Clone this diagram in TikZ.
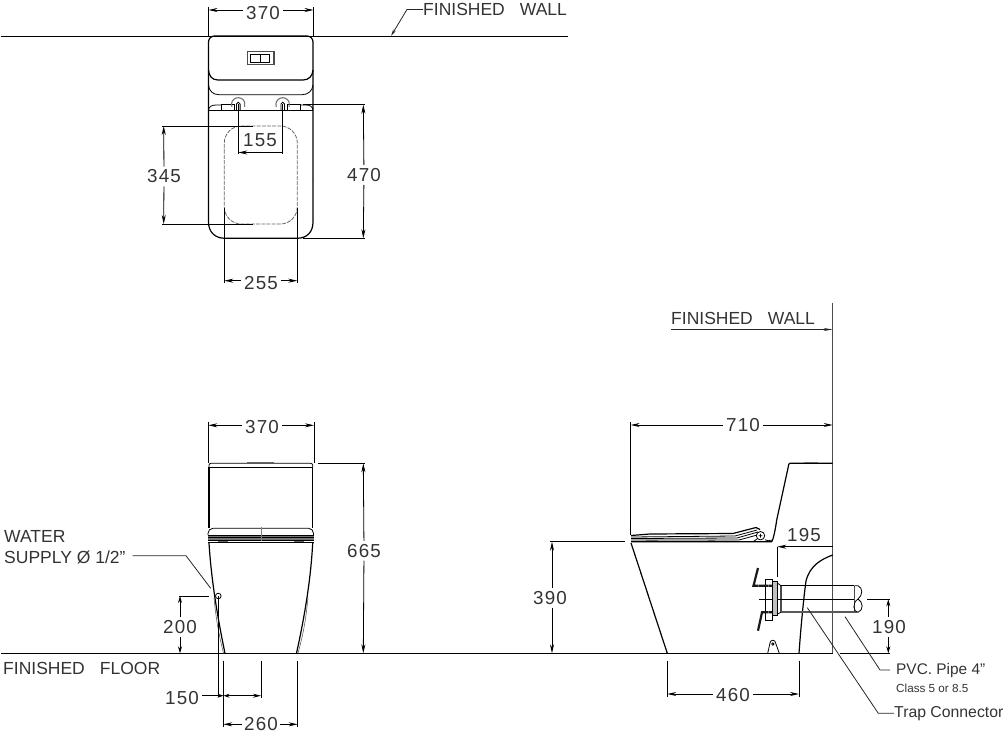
\documentclass[tikz,border=0pt]{standalone}
\usepackage{fontspec}
\setmainfont{Liberation Sans}
\usetikzlibrary{arrows.meta}
\newfontfamily\numfont[LetterSpace=6]{Liberation Sans}
\newcommand{\QM}{\symbol{34}}
\definecolor{inkgray}{gray}{0.2}
\tikzset{
  dimtext/.style={inner sep=3pt, text=inkgray, font=\fontsize{18.8}{20}\numfont},
  labeltext/.style={inner sep=0pt, anchor=west, text=inkgray, font=\fontsize{17.5}{18}\selectfont},
  outline/.style={line width=1.2pt, black},
  thinline/.style={line width=0.8pt, black},
  dimline/.style={line width=0.8pt, black, -{Stealth[length=9pt,width=4pt]}},
  leader/.style={line width=0.8pt, black!85},
  boltline/.style={line width=2.2pt, black!90, dash pattern=on 1.6pt off 0.3pt}
}
\begin{document}
\begin{tikzpicture}[x=1pt, y=-1pt]
  \useasboundingbox (0,0) rectangle (1007,733);

  %% walls and floor
  \draw[thinline] (1,36) -- (568,36);
  \draw[line width=1.2pt, black!70] (832.7,303) -- (832.7,653.3);
  \draw[thinline] (1,653.3) -- (832.7,653.3);
  \draw[thinline] (840,653.3) -- (890,653.3);

  %% top view
  \draw[outline, rounded corners=6] (208.5,180) -- (208.5,36) -- (313,36) -- (313,180);
  \draw[outline] (208.5,180) -- (208.5,222) .. controls (208.5,232) and (215,238.3) .. (225,238.3)
    -- (297,238.3) .. controls (307,238.3) and (313,232) .. (313,222) -- (313,180);
  \draw[outline] (208.5,70) .. controls (209,76) and (212,80) .. (218,80) -- (303,80) .. controls (309,80) and (312.5,76) .. (313,70);
  \draw[thinline] (208.5,85) .. controls (209,91) and (213,94.7) .. (219,94.7) -- (302,94.7) .. controls (308,94.7) and (312.5,91) .. (313,85);
  \draw[outline] (208.5,110.7) -- (313,110.7);
  \draw[thinline] (208.5,110) .. controls (209,106.5) and (212,105) .. (216,105) -- (222,105) (300,105) -- (306,105) .. controls (310,105) and (312.5,106.5) .. (313,110);
  \draw[thinline] (221.7,104.7) rectangle (234,110.7) (287,104.7) rectangle (300,110.7);
  \draw[line width=1.1pt, black!55] (231.9,106.8) arc[start angle=160, end angle=380, radius=6.8]
    (276.3,106.8) arc[start angle=160, end angle=380, radius=6.8];
  \draw[thinline] (236.5,110.7) -- (236.5,104) arc[start angle=180, end angle=360, radius=1.8] -- (240.1,110.7)
    (280.9,110.7) -- (280.9,104) arc[start angle=180, end angle=360, radius=1.8] -- (284.5,110.7);
  \draw[line width=1.3pt, black!70] (247.3,51.7) rectangle (274,64.7);
  \draw[thinline] (250.3,54.3) rectangle (269.3,62.7) (260,54.3) -- (260,62.7);
  \draw[line width=0.8pt, black!60, dashed, dash pattern=on 4pt off 1.2pt, rounded corners=17]
    (224.3,170) -- (224.3,126) -- (297.3,126) -- (297.3,224) -- (224.3,224) -- cycle;

  \node[dimtext] (lenTopW) at (263,13) {370};
  \coordinate (lenTopWa) at (208.5,10);
  \coordinate (lenTopWb) at (313.5,10);
  \draw[dimline] (lenTopW.west |- lenTopWa) -- (lenTopWa);
  \draw[dimline] (lenTopW.east |- lenTopWb) -- (lenTopWb);
  \draw[thinline] (208.5,7) -- (208.5,36) (313.5,7) -- (313.5,36);

  \node[labeltext] (wallTop) at (423,9.5) {FINISHED\hspace{15pt}WALL};
  \coordinate (wallTopEnd) at (391,36);
  \draw[leader, -{Stealth[length=7pt,width=3pt]}] (wallTop.west) -- (407,9.5) -- (wallTopEnd);

  \node[dimtext] (lenBolt) at (260,140) {155};
  \coordinate (lenBolta) at (238.3,152.5);
  \coordinate (lenBoltb) at (282.7,152.5);
  \draw[thinline] (238.3,104) -- (238.3,154) (282.7,104) -- (282.7,154);
  \draw[dimline, {Stealth[length=9pt,width=4pt]}-] (lenBolta) -- (lenBoltb);

  \node[dimtext] (lenSeat) at (164,176.5) {345};
  \coordinate (lenSeata) at (163.7,126);
  \coordinate (lenSeatb) at (163.7,224);
  \draw[thinline] (162,126) -- (253,126) (162,224) -- (253,224);
  \draw[dimline] (lenSeat) -- (lenSeata);
  \draw[dimline] (lenSeat) -- (lenSeatb);

  \node[dimtext] (lenBowl) at (364,175) {470};
  \coordinate (lenBowla) at (363.3,104.7);
  \coordinate (lenBowlb) at (363.3,238.3);
  \draw[thinline] (303,104.7) -- (365,104.7) (303,238.3) -- (365,238.3);
  \draw[dimline] (lenBowl) -- (lenBowla);
  \draw[dimline] (lenBowl) -- (lenBowlb);

  \node[dimtext] (lenOpen) at (261,283) {255};
  \coordinate (lenOpena) at (224.3,280.7);
  \coordinate (lenOpenb) at (297.3,280.7);
  \draw[thinline] (224.3,208) -- (224.3,283) (297.3,208) -- (297.3,283);
  \draw[dimline] (lenOpen.west |- lenOpena) -- (lenOpena);
  \draw[dimline] (lenOpen.east |- lenOpenb) -- (lenOpenb);

  %% front view
  \draw[outline] (209,528) -- (209,467.3) -- (312.7,467.3) -- (312.7,528);
  \draw[thinline, rounded corners=2] (209,467.3) -- (209,463.3) -- (312.7,463.3) -- (312.7,467.3);
  \draw[line width=1.5pt, black!60] (247,462.5) -- (274,462.5);
  \draw[thinline, rounded corners=5] (208,535) -- (208,528.3) -- (313.5,528.3) -- (313.5,535);
  \fill[black!55] (208,535) rectangle (313.5,540);
  \draw[thinline] (208,535) -- (313.5,535) (208,537.5) -- (313.5,537.5) (208,540) -- (313.5,540) (208,542.7) -- (313.5,542.7);
  \draw[line width=1.3pt, black!60] (218,541.3) -- (228,541.3) (294,541.3) -- (304,541.3);
  \draw[line width=0.4pt, black!50] (260.7,527) -- (260.7,541);
  \draw[outline] (209,543) .. controls (211,575) and (216,610) .. (225,653.3);
  \draw[outline] (312.7,543) .. controls (311,575) and (306,610) .. (296.5,653.3);
  \draw[line width=0.5pt, black!70] (214,597) .. controls (216,620) and (219,635) .. (223.5,653.3);
  \draw[line width=0.5pt, black!70] (308,597) .. controls (306,620) and (303,635) .. (298,653.3);
  \draw[thinline] (218.3,596) circle[radius=2.8];

  \node[dimtext] (lenFrontW) at (262,427) {370};
  \coordinate (lenFrontWa) at (208.3,425.3);
  \coordinate (lenFrontWb) at (314,425.3);
  \draw[thinline] (208.3,422) -- (208.3,463) (314,422) -- (314,463);
  \draw[dimline] (lenFrontW.west |- lenFrontWa) -- (lenFrontWa);
  \draw[dimline] (lenFrontW.east |- lenFrontWb) -- (lenFrontWb);

  \node[dimtext] (lenHigh) at (364,550.7) {665};
  \coordinate (lenHigha) at (363.3,463.3);
  \coordinate (lenHighb) at (363.3,653.3);
  \draw[thinline] (318,463.3) -- (365,463.3);
  \draw[dimline] (lenHigh) -- (lenHigha);
  \draw[dimline] (lenHigh) -- (lenHighb);

  \node[labeltext] (waterA) at (4,536) {WATER};
  \node[labeltext] (waterB) at (4,557.7) {SUPPLY \O{} 1/2\QM};
  \coordinate (waterEnd) at (210.7,588.3);
  \draw[leader] (132.7,555.7) -- (186,555.7) -- (waterEnd);

  \node[dimtext] (lenSupply) at (180,627.3) {200};
  \coordinate (lenSupplya) at (180,596);
  \coordinate (lenSupplyb) at (180,653.3);
  \draw[thinline] (179,596) -- (209,596);
  \draw[dimline, -{Stealth[length=7pt,width=4pt]}] (lenSupply) -- (lenSupplya);
  \draw[dimline, -{Stealth[length=7pt,width=4pt]}] (lenSupply) -- (lenSupplyb);

  \node[labeltext] (floorTxt) at (3,668.8) {FINISHED\hspace{15pt}FLOOR};

  \node[dimtext] (lenSide) at (182,698.3) {150};
  \coordinate (lenSidea) at (223.5,695.7);
  \coordinate (lenSideb) at (261,695.7);
  \draw[thinline] (218.3,596) -- (218.3,697) (261,660.7) -- (261,697.5);
  \draw[dimline, -{Stealth[length=6pt,width=4pt]}] (lenSide.east |- lenSidea) -- (lenSidea);
  \draw[dimline, {Stealth[length=6pt,width=4pt]}-{Stealth[length=8pt,width=4pt]}] (lenSidea) -- (lenSideb);

  \node[dimtext, inner sep=2pt] (lenFoot) at (261,724) {260};
  \coordinate (lenFoota) at (223.3,724.3);
  \coordinate (lenFootb) at (297.7,724.3);
  \draw[thinline] (223.3,660.7) -- (223.3,727) (297.7,660.7) -- (297.7,727);
  \draw[dimline] (lenFoot.west |- lenFoota) -- (lenFoota);
  \draw[dimline] (lenFoot.east |- lenFootb) -- (lenFootb);

  %% side view
  \draw[outline] (832.7,463.3) -- (790,463.3) .. controls (788.5,463.3) and (788.5,465) .. (788.3,466.7)
    -- (776.7,520) .. controls (775,532) and (773,540) .. (771.7,541.7) -- (631,541.7);
  \draw[line width=1.5pt, black!60] (804,462.5) -- (817.7,462.5);
  \draw[outline] (631,543) -- (667.3,653.3);
  \draw[outline] (631,535.5) -- (650,534) -- (733,533.5) -- (756,527.5);
  \draw[thinline] (631,537) -- (735,536) -- (757,530);
  \draw[thinline] (631,538.5) -- (737,538) -- (758,532);
  \draw[thinline] (631,540) -- (739,540) -- (759,534.5);
  \draw[outline] (756,527.5) -- (760,529.5);
  \draw[thinline, fill=white] (760.5,535.7) circle[radius=4.2] (758.7,535.7) -- (762.3,535.7) (760.5,533.9) -- (760.5,537.5);
  \draw[line width=1.3pt, black!60] (646,540.8) -- (658,540.8) (708,540.8) -- (715,540.8);
  \draw[thinline] (753,541.7) -- (757,539) (765,539.8) .. controls (767,541) and (770,541) .. (771.7,540);

  \draw[outline] (832.7,555) .. controls (822,559) and (810,565) .. (806,581)
    .. controls (804,595) and (801,625) .. (799,653.3);
  \draw[thinline] (777.3,546.7) -- (777.3,576.7);
  \draw[outline] (781,585.7) -- (854.3,585.7);
  \draw[line width=1.1pt, black!70] (781,585.7) -- (781,612.3) (854.3,585.7) -- (854.3,612.3);
  \draw[line width=1.8pt, black!65] (781,612.3) -- (857,612.3);
  \draw[line width=0.5pt, black] (759,599) -- (854,599);
  \draw[thinline] (854.3,585.7) -- (858,585.7) .. controls (863,588) and (863,595) .. (858,599)
    .. controls (852,603) and (853,612) .. (858,612.3) .. controls (864,610) and (863,602) .. (858,599);
  \draw[thinline] (765.7,579) rectangle (772.3,620);
  \draw[thinline, fill=black!25] (772.3,581) rectangle (777.3,615.7);
  \draw[thinline] (777.3,583) -- (781,585.7) (777.3,614) -- (781,612.3);
  \draw[boltline] (772,585.7) -- (753.5,585.7) -- (758,568);
  \draw[boltline] (772,612.3) -- (762,612.3) -- (758,630.7);
  \draw[thinline] (767.7,653.3) -- (770,643) arc[start angle=180, end angle=360, radius=2.8] -- (779.3,653.3);
  \draw[thinline] (772.8,644) circle[radius=1.2];

  \node[labeltext] (wallSide) at (671,318.7) {FINISHED\hspace{15pt}WALL};
  \coordinate (wallSideEnd) at (832.7,329.5);
  \draw[leader, -{Stealth[length=9pt,width=3pt]}] (wallSide.west |- wallSideEnd) -- (wallSideEnd);

  \node[dimtext] (lenDepth) at (743,425) {710};
  \coordinate (lenDeptha) at (630.7,425);
  \coordinate (lenDepthb) at (832.7,425);
  \draw[thinline] (630.7,422) -- (630.7,535);
  \draw[dimline] (lenDepth) -- (lenDeptha);
  \draw[dimline] (lenDepth) -- (lenDepthb);

  \node[dimtext] (lenBack) at (804,535) {195};
  \coordinate (lenBacka) at (777.3,546.7);
  \coordinate (lenBackb) at (832.7,546.7);
  \draw[dimline, {Stealth[length=9pt,width=4pt]}-] (lenBacka) -- (lenBackb);

  \node[dimtext] (lenSeatH) at (550,598) {390};
  \coordinate (lenSeatHa) at (552,541.7);
  \coordinate (lenSeatHb) at (552,653.3);
  \draw[thinline] (549.5,541.7) -- (625,541.7);
  \draw[dimline] (lenSeatH.north -| lenSeatHa) -- (lenSeatHa);
  \draw[dimline] (lenSeatH.south -| lenSeatHb) -- (lenSeatHb);

  \node[dimtext] (lenBase) at (733,695) {460};
  \coordinate (lenBasea) at (667.3,694);
  \coordinate (lenBaseb) at (799,694);
  \draw[thinline] (667.3,660.7) -- (667.3,697) (799,660.7) -- (799,697);
  \draw[dimline] (lenBase.west |- lenBasea) -- (lenBasea);
  \draw[dimline] (lenBase.east |- lenBaseb) -- (lenBaseb);

  \node[dimtext] (lenPipe) at (889,627.3) {190};
  \coordinate (lenPipea) at (888.3,599.3);
  \coordinate (lenPipeb) at (888.3,653.3);
  \draw[thinline] (867.3,599.3) -- (890,599.3);
  \draw[dimline, -{Stealth[length=7pt,width=4pt]}] (lenPipe.north -| lenPipea) -- (lenPipea);
  \draw[dimline, -{Stealth[length=7pt,width=4pt]}] (lenPipe.south -| lenPipeb) -- (lenPipeb);

  \node[labeltext, font=\fontsize{15.4}{16}\selectfont] (pvcTxt) at (896,670.7) {PVC. Pipe 4\QM};
  \node[labeltext, font=\fontsize{11.7}{12}\selectfont] (classTxt) at (896,688.3) {Class 5 or 8.5};
  \node[labeltext, font=\fontsize{15.8}{16}\selectfont] (trapTxt) at (894,713.3) {Trap Connector};
  \coordinate (pvcEnd) at (845,616.7);
  \coordinate (trapEnd) at (807.3,607.7);
  \draw[leader] (pvcEnd) -- (880,670) -- (890,670);
  \draw[leader] (trapEnd) -- (878.3,713.3) -- (trapTxt.west);
\end{tikzpicture}
\end{document}
